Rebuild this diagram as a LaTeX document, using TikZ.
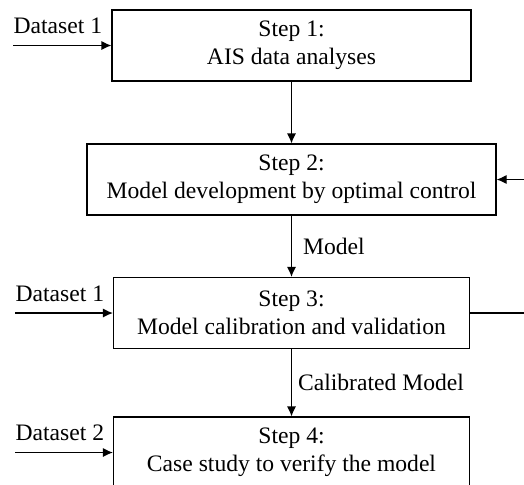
\documentclass[tikz,border=0pt]{standalone}
\usepackage{fontspec}
\setmainfont{Liberation Serif}
\usetikzlibrary{arrows.meta, positioning}

\begin{document}
\begin{tikzpicture}[
    x = 0.5pt, y = -0.5pt,
    line width = 0.6pt,
    >={Latex[length=5pt, width=4.6pt]},
    stepbox/.style = {draw, align=center, minimum height=35.5pt, inner sep=0pt,
                      font=\fontsize{11.8}{14}\selectfont},
    flow/.style = {->},
    datalabel/.style = {anchor=south west, inner xsep=0pt, inner ysep=5.5pt,
                        font=\fontsize{11.8}{14}\selectfont},
    arrowlabel/.style = {right, inner sep=3pt, font=\fontsize{11.8}{14}\selectfont}]

\clip (0,0) rectangle (524,484);

% The steps
\node[stepbox, minimum width=179.5pt] (s1) at (291.5, 45.5) {Step 1:\\AIS data analyses};
\node[stepbox, minimum width=204.5pt] (s2) at (291.5, 179.5) {Step 2:\\Model development by optimal control};
\node[stepbox, minimum width=178pt] (s3) at (291.5, 313) {Step 3:\\Model calibration and validation};
\node[stepbox, minimum width=178pt] (s4) at (291.5, 452.5) {Step 4:\\Case study to verify the model};

% Inputs
\coordinate (in1) at (13, 45.5);
\coordinate (in3) at (15, 313);
\coordinate (in4) at (15, 452.5);

\draw[flow] (in1) node (d1) [datalabel] {Dataset 1} -- (s1.west);
\draw[flow] (in3) node (d3) [datalabel] {Dataset 1} -- (s3.west);
\draw[flow] (in4) node (d4) [datalabel] {Dataset 2} -- (s4.west);

% Main chain
\draw[flow] (s1) -- (s2);
\draw[flow] (s2) -- node (m) [arrowlabel, xshift=2.5pt] {Model} (s3);
\draw[flow] (s3) -- node (cm) [arrowlabel] {Calibrated Model} (s4);

% Feedback
\draw[flow] (s3.east) -- ++(80,0) |- (s2.east);

\end{tikzpicture}
\end{document}
